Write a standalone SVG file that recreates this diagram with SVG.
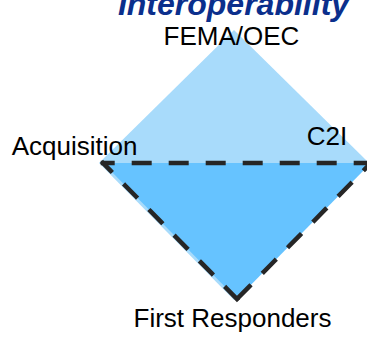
<svg xmlns="http://www.w3.org/2000/svg" width="367" height="345" viewBox="0 0 367 345">
  <style>
    .lbl { font-family: "Liberation Sans", Arial, sans-serif; font-size: 26px; fill: #000000; }
    .title { font-family: "Liberation Sans", Arial, sans-serif; font-size: 32px; font-weight: bold; font-style: italic; fill: #0B2F8C; }
    .dash { stroke: #262626; stroke-width: 4.5; stroke-linecap: square; fill: none; }
  </style>
  <rect width="367" height="345" fill="#FFFFFF"/>
  <g id="diamond">
    <polygon points="234,30 369,163 234,300 99,163" fill="#A8DBFB"/>
  </g>
  <g id="triangle">
    <polygon points="103,163 371,163 237,299" fill="#66C3FF"/>
  </g>
  <g id="connectors">
    <line class="dash" x1="103" y1="163" x2="371" y2="163" stroke-dasharray="15.5 21.5" stroke-dashoffset="6.05"/>
    <line class="dash" x1="103" y1="163" x2="237" y2="299" stroke-dasharray="15.5 20.5" stroke-dashoffset="4.45"/>
    <line class="dash" x1="237" y1="299" x2="371" y2="163" stroke-dasharray="15.5 20.5" stroke-dashoffset="-2.25"/>
  </g>
  <g id="title">
    <text class="title" x="233.5" y="15" text-anchor="middle">Interoperability</text>
  </g>
  <g id="fema-oec">
    <text class="lbl" x="231.5" y="45" text-anchor="middle">FEMA/OEC</text>
  </g>
  <g id="acquisition">
    <text class="lbl" x="11.7" y="155">Acquisition</text>
  </g>
  <g id="c2i">
    <text class="lbl" x="306.7" y="145">C2I</text>
  </g>
  <g id="first-responders">
    <text class="lbl" x="232.5" y="327.3" text-anchor="middle">First Responders</text>
  </g>
</svg>
